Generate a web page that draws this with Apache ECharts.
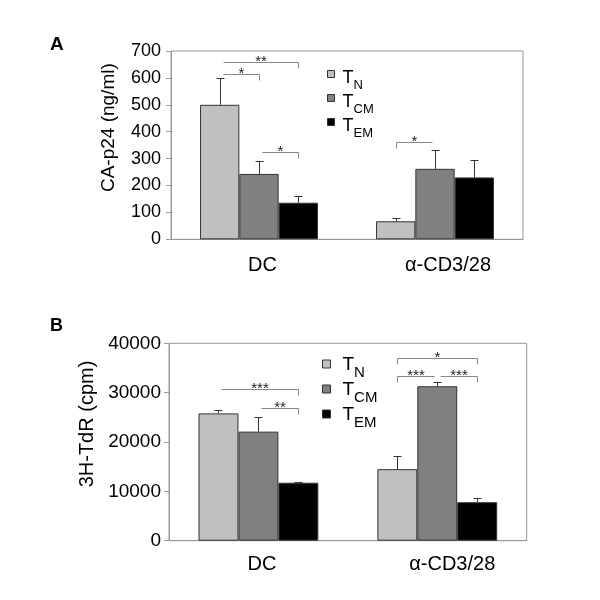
<!DOCTYPE html>
<html><head><meta charset="utf-8">
<script src="https://cdn.jsdelivr.net/npm/echarts@6/dist/echarts.min.js"></script>
<style>html,body{margin:0;padding:0;background:#fff}#c{width:600px;height:600px}</style>
</head><body><div id="c"></div>
<script>
// ---------- data ----------
const categories = ['DC', 'α-CD3/28'];
const seriesNames = ['TN', 'TCM', 'TEM'];
const subscripts = ['N', 'CM', 'EM'];
const barColors = ['#c0c0c0', '#808080', '#000000'];

// Panel A: CA-p24 (ng/ml)
const aTicks = [0, 100, 200, 300, 400, 500, 600, 700];
const aTN = [500, 67];
const aTCM = [243, 262];
const aTEM = [136, 230];
const aTNErr = [598, 78];
const aTCMErr = [291, 332];
const aTEMErr = [160, 294];
// brackets: [category, fromBar, toBar, y, tickLeft, tickRight]
const aBrackets = [[0, 0, 1, 613, 0, 1], [0, 0, 2, 658, 0, 1], [0, 1, 2, 324, 0, 1], [1, 0, 1, 362, 1, 0]];
const aStars = ['*', '**', '*', '*'];

// Panel B: 3H-TdR (cpm)
const bTicks = [0, 10000, 20000, 30000, 40000];
const bTN = [25800, 14500];
const bTCM = [22100, 31300];
const bTEM = [11750, 7800];
const bTNErr = [26400, 17200];
const bTCMErr = [25000, 32100];
const bTEMErr = [11950, 8600];
const bBrackets = [[0, 0, 2, 30680, 0, 1], [0, 1, 2, 26830, 0, 1], [1, 0, 2, 37080, 1, 1], [1, 0, 1, 33370, 1, 0], [1, 1, 2, 33370, 0, 1]];
const bStars = ['***', '**', '*', '***', '***'];

// ---------- chart ----------
const FONT = '"Liberation Sans", Arial, sans-serif';
const GAP = 0.33;
const AXIS = '#999';

function barPos(api, cat, bar) {
  const band = api.size([1, 0])[0];
  const bw = band * (1 - GAP) / 3;
  return api.coord([cat, 0])[0] + (bar - 1) * bw;
}
function px(v) { return Math.round(v) + 0.5; }

function errData(vals, errs) {
  const out = [];
  vals.forEach((arr, bi) => arr.forEach((v, ci) => out.push([ci, bi, v, errs[bi][ci]])));
  return out;
}

function errSeries(idx, vals, errs) {
  return {
    type: 'custom', xAxisIndex: idx, yAxisIndex: idx, z: 5, silent: true,
    data: errData(vals, errs),
    renderItem(params, api) {
      const cat = api.value(0), bi = api.value(1);
      const x = px(barPos(api, cat, bi));
      const y0 = api.coord([cat, api.value(2)])[1];
      const y1 = px(api.coord([cat, api.value(3)])[1]);
      const st = { stroke: '#333', lineWidth: 1 };
      return { type: 'group', children: [
        { type: 'line', shape: { x1: x, y1: y0, x2: x, y2: y1 }, style: st },
        { type: 'line', shape: { x1: x - 4, y1: y1, x2: x + 4, y2: y1 }, style: st }
      ]};
    }
  };
}

function bracketSeries(idx, brackets, stars) {
  return {
    type: 'custom', xAxisIndex: idx, yAxisIndex: idx, z: 6, silent: true,
    data: brackets,
    renderItem(params, api) {
      const cat = api.value(0), f = api.value(1), t = api.value(2);
      const tl = api.value(4), tr = api.value(5);
      let x1 = barPos(api, cat, f), x2 = barPos(api, cat, t);
      if (!tl) x1 += 3;
      if (!tr) x2 -= 3;
      x1 = px(x1); x2 = px(x2);
      const y = px(api.coord([cat, api.value(3)])[1]);
      const st = { stroke: '#888', lineWidth: 1 };
      const ch = [{ type: 'line', shape: { x1: x1, y1: y, x2: x2, y2: y }, style: st }];
      if (tl) ch.push({ type: 'line', shape: { x1: x1, y1: y, x2: x1, y2: y + 6 }, style: st });
      if (tr) ch.push({ type: 'line', shape: { x1: x2, y1: y, x2: x2, y2: y + 6 }, style: st });
      ch.push({ type: 'text', x: (x1 + x2) / 2, y: y - 0.5, style: {
        text: stars[params.dataIndex], fontSize: 15, fontFamily: FONT, fill: '#222',
        align: 'center', verticalAlign: 'middle' } });
      return { type: 'group', children: ch };
    }
  };
}

function barSeries(idx, vals) {
  return vals.map((v, i) => ({
    type: 'bar', name: seriesNames[i], xAxisIndex: idx, yAxisIndex: idx,
    data: v, barGap: '0%', barCategoryGap: (GAP * 100) + '%',
    itemStyle: { color: barColors[i], borderColor: '#333', borderWidth: 1 },
    emphasis: { disabled: true }
  }));
}

function legendCfg(left, top, icon, tSize, sSize, tPad, sPad, lh, gap, tLeft) {
  return {
    data: seriesNames, orient: 'vertical', left: left, top: top, padding: 0,
    itemWidth: icon, itemHeight: icon, itemGap: gap, icon: 'rect', selectedMode: false,
    itemStyle: { borderColor: '#333', borderWidth: 1 },
    formatter: n => '{t|T}{s|' + subscripts[seriesNames.indexOf(n)] + '}',
    textStyle: { rich: {
      t: { fontSize: tSize, lineHeight: lh, padding: [tPad, 0, 0, tLeft], verticalAlign: 'top', fontFamily: FONT, color: '#000' },
      s: { fontSize: sSize, lineHeight: lh, padding: [sPad, 0, 0, 0], verticalAlign: 'top', fontFamily: FONT, color: '#000' }
    } }
  };
}

function xAxisCfg(idx, shift, margin) {
  return {
    type: 'category', gridIndex: idx, data: categories,
    axisLine: { lineStyle: { color: AXIS } },
    axisTick: { length: 4, lineStyle: { color: AXIS } },
    axisLabel: {
      margin: margin, color: '#000',
      formatter: (v, i) => '{' + (i === 0 ? 'a' : 'b') + '|' + v + '}',
      rich: {
        a: { fontSize: 20, fontFamily: FONT, color: '#000', padding: [0, 0, 0, 7] },
        b: { fontSize: 20, fontFamily: FONT, color: '#000', padding: [0, 0, 0, shift] }
      }
    }
  };
}

function yAxisCfg(idx, ticks, name, nameSize, nameGap, namePad, labelSize, labelMargin) {
  return {
    type: 'value', gridIndex: idx, min: ticks[0], max: ticks[ticks.length - 1],
    interval: ticks[1] - ticks[0],
    name: name, nameLocation: 'middle', nameGap: nameGap,
    nameTextStyle: { fontSize: nameSize, fontFamily: FONT, color: '#000', padding: [0, 0, 0, namePad] },
    axisLine: { show: true, lineStyle: { color: AXIS } },
    axisTick: { show: true, length: 5, lineStyle: { color: AXIS } },
    splitLine: { show: false },
    axisLabel: { fontSize: labelSize, fontFamily: FONT, color: '#000', margin: labelMargin,
      formatter: v => String(v) }
  };
}

const chart = echarts.init(document.getElementById('c'), null, { renderer: 'canvas' });
chart.setOption({
  animation: false,
  backgroundColor: '#fff',
  textStyle: { fontFamily: FONT },
  title: [
    { text: 'A', left: 50, top: 35, padding: 0, textStyle: { fontSize: 19, fontWeight: 'bold', color: '#000', fontFamily: FONT } },
    { text: 'B', left: 50, top: 317, padding: 0, textStyle: { fontSize: 18, fontWeight: 'bold', color: '#000', fontFamily: FONT } }
  ],
  legend: [
    legendCfg(327, 56.5, 7, 18, 13, 13, 22, 35, -11, 3),
    legendCfg(322, 348, 8, 19, 15, 7, 17, 32, -7, 7)
  ],
  grid: [
    { left: 171, right: 77, top: 51, bottom: 360.7, show: true, borderColor: AXIS, borderWidth: 1 },
    { left: 169, right: 73.3, top: 343.3, bottom: 59.3, show: true, borderColor: AXIS, borderWidth: 1 }
  ],
  xAxis: [xAxisCfg(0, 26, 16), xAxisCfg(1, 30, 14)],
  yAxis: [
    yAxisCfg(0, aTicks, 'CA-p24 (ng/ml)', 19, 53, 35, 18, 10),
    yAxisCfg(1, bTicks, '3H-TdR (cpm)', 20, 69, 36, 19, 8)
  ],
  series: [
    ...barSeries(0, [aTN, aTCM, aTEM]),
    errSeries(0, [aTN, aTCM, aTEM], [aTNErr, aTCMErr, aTEMErr]),
    bracketSeries(0, aBrackets, aStars),
    ...barSeries(1, [bTN, bTCM, bTEM]),
    errSeries(1, [bTN, bTCM, bTEM], [bTNErr, bTCMErr, bTEMErr]),
    bracketSeries(1, bBrackets, bStars)
  ]
});
</script></body></html>
